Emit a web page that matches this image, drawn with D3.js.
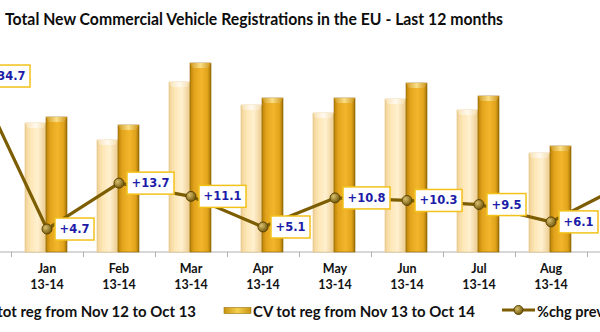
<!DOCTYPE html>
<html>
<head>
<meta charset="utf-8">
<script src="https://cdn.jsdelivr.net/npm/d3@7"></script>
<style>
html,body{margin:0;padding:0;background:#fff;overflow:hidden;}
svg{display:block;}
</style>
</head>
<body>
<svg id="chart" width="600" height="332"></svg>
<script>
// ---- data ----
const months = ["Dec","Jan","Feb","Mar","Apr","May","Jun","Jul","Aug","Sep"];
const periodLabel = "13-14";
const regPrev = [104, 129, 112, 170, 147, 139, 153, 142, 99, 150];   // Nov 12 - Oct 13 (thousands)
const regCurr = [140, 135, 127, 189, 154, 154, 169, 156, 106, 170];  // Nov 13 - Oct 14 (thousands)
const pctChg  = [34.7, 4.7, 13.7, 11.1, 5.1, 10.8, 10.3, 9.5, 6.1, 13.3];
const legendLabels = ["CV tot reg from Nov 12 to Oct 13","CV tot reg from Nov 13 to Oct 14","%chg prev year"];
const title = "Total New Commercial Vehicle Registrations in the EU - Last 12 months";

const W = 600;
const svg = d3.select("#chart");
const defs = svg.append("defs");

// gradients
function hGrad(id, stops){
  const g = defs.append("linearGradient").attr("id",id).attr("x1","0").attr("x2","1").attr("y1","0").attr("y2","0");
  stops.forEach(s=>g.append("stop").attr("offset",s[0]).attr("stop-color",s[1]));
}
hGrad("gLight",[[0,"#efd096"],[0.25,"#fde6b4"],[0.6,"#fff0d0"],[1,"#eccb8c"]]);
hGrad("gDark",[[0,"#b98308"],[0.2,"#e3a41c"],[0.55,"#f2b62c"],[0.85,"#e0a11a"],[1,"#9c6e06"]]);
hGrad("gLightTop",[[0,"#f6e1b4"],[0.5,"#fffaf0"],[1,"#f4dcaa"]]);
hGrad("gDarkTop",[[0,"#d09a20"],[0.5,"#fbe08a"],[1,"#cc9418"]]);
hGrad("gLeg",[[0,"#c89410"],[0.5,"#f4d050"],[1,"#c89410"]]);
const rg = defs.append("radialGradient").attr("id","gMark").attr("cx","0.35").attr("cy","0.35").attr("r","0.7");
rg.append("stop").attr("offset",0).attr("stop-color","#d8c070");
rg.append("stop").attr("offset",1).attr("stop-color","#6e5404");

// scales
const step = 72;
const x0 = d3.scaleBand().domain(months).range([-61, -61 + step*months.length]).padding(0);
const x1 = d3.scaleBand().domain(["prev","curr"]).range([14, 56]).padding(0);
const yBar = d3.scaleLinear().domain([0, 200]).range([252, 52]);
const yPct = d3.scaleLinear().domain([0, 40]).range([253, 49]);
const cx = d => x0(d) + step/2;

// axis
const axisG = svg.append("g").attr("transform","translate(0,252)");
axisG.append("line").attr("x1",0).attr("x2",W).attr("y1",0).attr("y2",0).attr("stroke","#b0b0b0").attr("stroke-width",1);
axisG.selectAll(".bnd").data(months).enter().append("line")
  .attr("x1",d=>x0(d)+0.5).attr("x2",d=>x0(d)+0.5).attr("y1",0).attr("y2",5)
  .attr("stroke","#b0b0b0");

// bars
const groups = svg.append("g").selectAll("g").data(months).enter().append("g")
  .attr("transform",d=>`translate(${x0(d)},0)`);
function drawBars(key, vals, fill, topFill, stroke){
  groups.each(function(m,i){
    const g = d3.select(this);
    const v = vals[i];
    const x = x1(key), w = x1.bandwidth();
    const y = yBar(v), h = yBar(0)-yBar(v);
    g.append("rect").attr("x",x).attr("y",y).attr("width",w).attr("height",h)
      .attr("fill",`url(#${fill})`).attr("stroke",stroke).attr("stroke-width",0.6);
    g.append("path")
      .attr("d",`M${x},${y} L${x+w},${y} L${x+w-3},${y+5} L${x+3},${y+5} Z`)
      .attr("fill",`url(#${topFill})`).attr("opacity",0.95);
  });
}
drawBars("prev", regPrev, "gLight", "gLightTop", "#e2c07c");
drawBars("curr", regCurr, "gDark", "gDarkTop", "#8a6204");

// line
const line = d3.line().x((d,i)=>cx(months[i])).y(d=>yPct(d));
svg.append("path").datum(pctChg).attr("d",line)
  .attr("fill","none").attr("stroke","#7c5d02").attr("stroke-width",3.2).attr("stroke-linejoin","round");
svg.append("g").selectAll("circle").data(pctChg).enter().append("circle")
  .attr("cx",(d,i)=>cx(months[i])).attr("cy",d=>yPct(d)).attr("r",5)
  .attr("fill","url(#gMark)").attr("stroke","#5c4402").attr("stroke-width",1);

// data labels (only those that fall at least partly inside the view)
const lab = svg.append("g");
pctChg.forEach((d,i)=>{
  const px = cx(months[i]) + 8, py = yPct(d);
  if (px > W) return;
  const g = lab.append("g");
  const t = g.append("text").text("+" + d.toFixed(1))
    .attr("font-family","DejaVu Sans, Verdana, sans-serif").attr("font-weight","bold")
    .attr("font-size","11.5px").attr("fill","#1c1ca8")
    .attr("x", px + 4.5).attr("y", py + 4);
  const w = t.node().getComputedTextLength();
  g.insert("rect","text").attr("x",px).attr("y",py-11).attr("width",w+9).attr("height",22)
    .attr("fill","#fff").attr("stroke","#f2c21a").attr("stroke-width",1.5);
});

// category labels (visible months only)
const visMonths = months.filter(m => cx(m) > 0 && cx(m) < W);
const cat = svg.append("g").attr("font-family","Lato, sans-serif").attr("font-weight","bold")
  .attr("font-size","12.5px").attr("fill","#111").attr("text-anchor","middle");
cat.selectAll(".m").data(visMonths).enter().append("text").attr("x",d=>cx(d)).attr("y",273).text(d=>d);
cat.selectAll(".p").data(visMonths).enter().append("text").attr("x",d=>cx(d)).attr("y",289).text(periodLabel);

// title
svg.append("text").attr("x",5).attr("y",25).text(title)
  .attr("font-family","Lato, sans-serif").attr("font-weight","bold").attr("font-size","17.5px")
  .attr("fill","#0d0d0d").attr("textLength",498).attr("lengthAdjust","spacingAndGlyphs");

// legend
const leg = svg.append("g").attr("font-family","Lato, sans-serif").attr("font-weight","bold")
  .attr("font-size","14.5px").attr("fill","#111");
leg.append("text").attr("x",196).attr("y",317).attr("text-anchor","end").text(legendLabels[0])
  .attr("textLength",222).attr("lengthAdjust","spacingAndGlyphs");
leg.append("rect").attr("x",224).attr("y",307.5).attr("width",27).attr("height",6)
  .attr("fill","url(#gLeg)").attr("stroke","#9a7208").attr("stroke-width",0.6);
leg.append("text").attr("x",253).attr("y",317).text(legendLabels[1])
  .attr("textLength",222).attr("lengthAdjust","spacingAndGlyphs");
leg.append("line").attr("x1",502).attr("x2",535).attr("y1",310).attr("y2",310)
  .attr("stroke","#7c5d02").attr("stroke-width",3.2);
leg.append("circle").attr("cx",518.5).attr("cy",310).attr("r",4.5)
  .attr("fill","url(#gMark)").attr("stroke","#5c4402");
leg.append("text").attr("x",537).attr("y",317).text(legendLabels[2]);
</script>
</body>
</html>
